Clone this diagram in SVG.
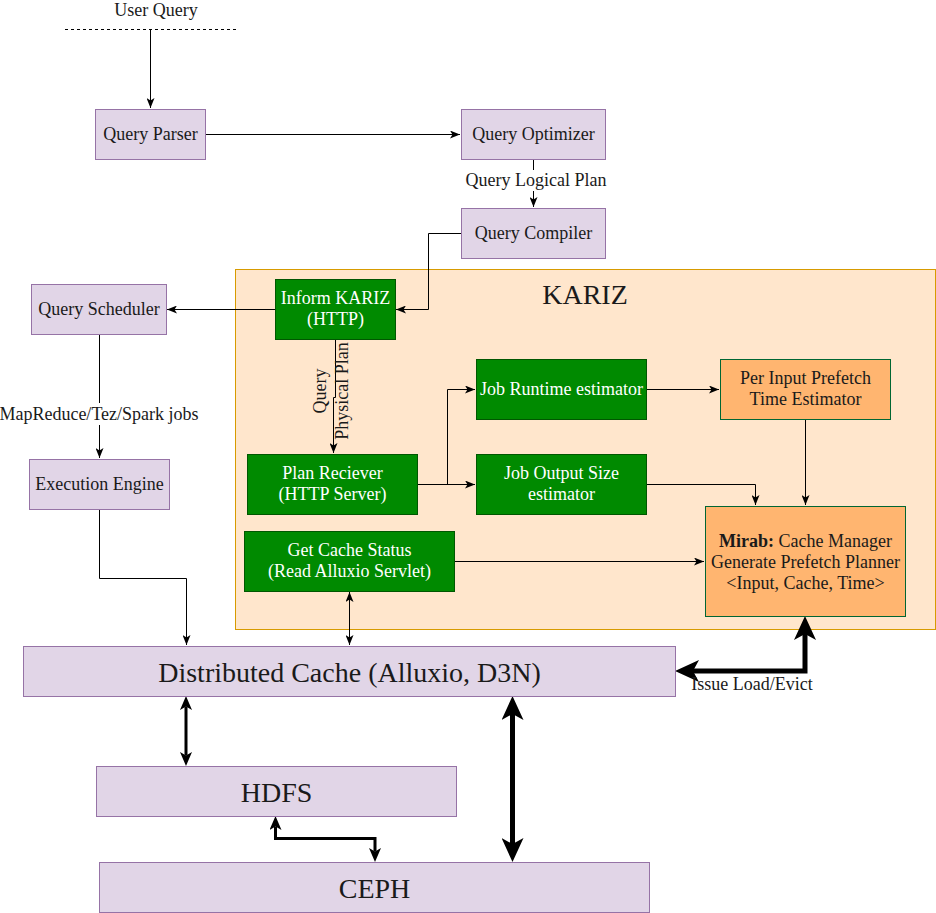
<svg xmlns="http://www.w3.org/2000/svg" width="936" height="913" viewBox="0 0 936 913">
<style>
text{font-family:"Liberation Serif","Times New Roman",serif;font-size:18px;fill:#1a1a1a;text-anchor:middle}
.big{font-size:28px}
.w{fill:#ffffff}
.p{fill:#e1d5e7;stroke:#9673a6;stroke-width:1}
.g{fill:#008a00;stroke:#005700;stroke-width:1}
.o{fill:#ffb570;stroke:#006633;stroke-width:1}
.c{fill:none;stroke:#000;stroke-width:1}
.t3{fill:none;stroke:#000;stroke-width:3}
.t5{fill:none;stroke:#000;stroke-width:5}
</style>
<defs>
<marker id="a" markerUnits="userSpaceOnUse" viewBox="0 0 10 8" markerWidth="10" markerHeight="8" refX="10" refY="4" orient="auto-start-reverse"><path d="M0,0 L10,4 L0,8 L2.5,4 Z" fill="#000"/></marker>
<marker id="m" markerUnits="userSpaceOnUse" viewBox="0 0 14 12" markerWidth="14" markerHeight="12" refX="3.5" refY="6" orient="auto-start-reverse"><path d="M0,0 L14,6 L0,12 L3.5,6 Z" fill="#000"/></marker>
<marker id="l" markerUnits="userSpaceOnUse" viewBox="0 0 24 22" markerWidth="24" markerHeight="22" refX="6" refY="11" orient="auto-start-reverse"><path d="M0,0 L24,11 L0,22 L6,11 Z" fill="#000"/></marker>
</defs>
<rect width="936" height="913" fill="#ffffff"/>

<g id="kariz">
<rect x="235.5" y="269.5" width="700" height="360" fill="#ffe6cc" stroke="#d79b00"/>
<text x="585" y="304" class="big">KARIZ</text>
</g>

<g id="connectors">
<line x1="65" y1="29.5" x2="236" y2="29.5" stroke="#000" stroke-dasharray="3 3"/>
<path class="c" d="M150.5,29.5 V108" marker-end="url(#a)"/>
<path class="c" d="M205,134.5 H460" marker-end="url(#a)"/>
<path class="c" d="M533.5,159 V207" marker-end="url(#a)"/>
<rect x="463" y="170" width="146" height="21" fill="#ffffff"/>
<text x="536" y="186">Query Logical Plan</text>
<path class="c" d="M461,233.5 H428.5 V309.5 H396" marker-end="url(#a)"/>
<path class="c" d="M275,309.5 H167" marker-end="url(#a)"/>
<path class="c" d="M99.5,334 V458" marker-end="url(#a)"/>
<rect x="0" y="403" width="200" height="22" fill="#ffffff"/>
<text x="99" y="420">MapReduce/Tez/Spark jobs</text>
<path class="c" d="M99.5,509 V578.5 H186.5 V645" marker-end="url(#a)"/>
<path class="c" d="M335.5,339 V397.5 H333.5 V453" marker-end="url(#a)"/>
<text transform="rotate(-90 335 391)" x="335" y="382">Query</text>
<text transform="rotate(-90 335 391)" x="335" y="404">Physical Plan</text>
<path class="c" d="M417,484.5 H475" marker-end="url(#a)"/>
<path class="c" d="M447.5,484.5 V389.5 H475" marker-end="url(#a)"/>
<path class="c" d="M646,389.5 H719" marker-end="url(#a)"/>
<path class="c" d="M805.5,419 V505" marker-end="url(#a)"/>
<path class="c" d="M646,484.5 H755.5 V505" marker-end="url(#a)"/>
<path class="c" d="M454,561.5 H704" marker-end="url(#a)"/>
<path class="c" d="M349.5,592 V645" marker-start="url(#a)" marker-end="url(#a)"/>
<path class="t5" d="M805,634 V671 H693" marker-start="url(#l)" marker-end="url(#l)"/>
<text x="752" y="690">Issue Load/Evict</text>
<path class="t3" d="M186,706.5 V755.5" marker-start="url(#m)" marker-end="url(#m)"/>
<path class="t5" d="M512.5,714 V844" marker-start="url(#l)" marker-end="url(#l)"/>
<path class="t3" d="M275.5,826.5 V838.5 H375 V851.5" marker-start="url(#m)" marker-end="url(#m)"/>
</g>

<g id="user-query"><text x="156" y="16">User Query</text></g>
<g id="query-parser"><rect class="p" x="95.5" y="109.5" width="110" height="50"/><text x="150.5" y="140">Query Parser</text></g>
<g id="query-optimizer"><rect class="p" x="461.5" y="109.5" width="144" height="50"/><text x="533.5" y="140">Query Optimizer</text></g>
<g id="query-compiler"><rect class="p" x="461.5" y="208.5" width="144" height="50"/><text x="533.5" y="239">Query Compiler</text></g>
<g id="query-scheduler"><rect class="p" x="31.5" y="284.5" width="135" height="50"/><text x="99" y="315">Query Scheduler</text></g>
<g id="execution-engine"><rect class="p" x="29.5" y="459.5" width="140" height="50"/><text x="99.5" y="490">Execution Engine</text></g>
<g id="inform-kariz"><rect class="g" x="275.5" y="279.5" width="120" height="60"/><text class="w" x="335.5" y="304">Inform KARIZ</text><text class="w" x="335.5" y="325">(HTTP)</text></g>
<g id="plan-reciever"><rect class="g" x="247.5" y="454.5" width="170" height="60"/><text class="w" x="332.5" y="479">Plan Reciever</text><text class="w" x="332.5" y="500">(HTTP Server)</text></g>
<g id="job-runtime"><rect class="g" x="476.5" y="359.5" width="170" height="60"/><text class="w" x="561.5" y="395">Job Runtime estimator</text></g>
<g id="job-output"><rect class="g" x="476.5" y="454.5" width="170" height="60"/><text class="w" x="561.5" y="479">Job Output Size</text><text class="w" x="561.5" y="500">estimator</text></g>
<g id="prefetch-time"><rect class="o" x="720.5" y="359.5" width="170" height="60"/><text x="805.5" y="384">Per Input Prefetch</text><text x="805.5" y="405">Time Estimator</text></g>
<g id="get-cache-status"><rect class="g" x="244.5" y="531.5" width="210" height="60"/><text class="w" x="349.5" y="556">Get Cache Status</text><text class="w" x="349.5" y="577">(Read Alluxio Servlet)</text></g>
<g id="mirab"><rect class="o" x="705.5" y="506.5" width="200" height="110"/><text x="805.5" y="547"><tspan font-weight="bold">Mirab:</tspan> Cache Manager</text><text x="805.5" y="568">Generate Prefetch Planner</text><text x="805.5" y="589">&lt;Input, Cache, Time&gt;</text></g>
<g id="distributed-cache"><rect class="p" x="23.5" y="646.5" width="652" height="50"/><text class="big" x="349.5" y="682">Distributed Cache (Alluxio, D3N)</text></g>
<g id="hdfs"><rect class="p" x="96.5" y="766.5" width="360" height="50"/><text class="big" x="276.5" y="802">HDFS</text></g>
<g id="ceph"><rect class="p" x="99.5" y="862.5" width="550" height="50"/><text class="big" x="374.5" y="898">CEPH</text></g>
</svg>
